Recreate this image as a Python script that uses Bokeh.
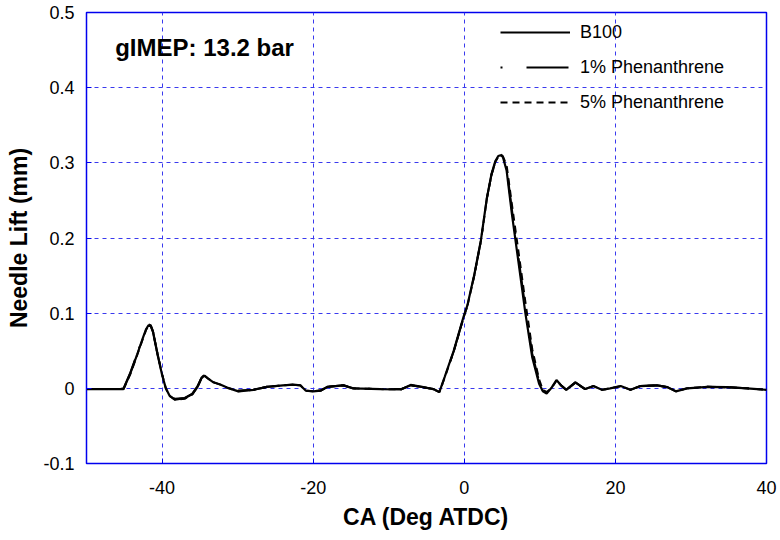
from bokeh.plotting import figure
from bokeh.models import Legend, LegendItem, Label, FixedTicker, Range1d
from bokeh.embed import file_html
from bokeh.resources import INLINE

# Crank angle (deg ATDC)
ca = [-50, -47, -45.5, -45.1, -44.2, -43.3, -42.5, -42.1, -41.8, -41.5, -41.2, -40.6, -40.0,
      -39.5, -39.0, -38.3, -37.0, -36.0, -35.3, -34.8, -34.4, -33.9, -33.2, -32.3, -31.4,
      -29.9, -27.9, -26.1, -24.0, -22.6, -21.7, -21.0, -20.0, -19.0, -18.1, -16.0, -14.7,
      -11.1, -8.4, -7.1, -5.4, -4.1, -3.3, -2.6, -1.4, -0.1, 0.4, 1.3, 2.2, 3.0, 3.6, 4.1,
      4.5, 4.8, 5.1, 5.6, 6.3, 7.2, 8.1, 9.0, 9.9, 10.4, 10.9, 11.6, 12.2, 12.8, 13.5, 14.7, 16.0, 17.1,
      18.2, 19.3, 20.7, 22.0, 23.3, 25.5, 26.9, 28.0, 29.5, 32.2, 34.8, 37.4, 40.0]

# Needle lift (mm)
b100 = [-0.001, -0.001, -0.001, -0.001, 0.020, 0.045, 0.068, 0.079, 0.084, 0.083, 0.075, 0.045, 0.018,
        0.000, -0.010, -0.015, -0.013, -0.008, 0.002, 0.013, 0.017, 0.013, 0.008, 0.005, 0.001,
        -0.004, -0.002, 0.002, 0.004, 0.005, 0.004, -0.003, -0.004, -0.003, 0.002, 0.004, 0.000,
        -0.001, -0.0015, 0.0045, 0.0015, -0.001, -0.005, 0.015, 0.050, 0.095, 0.110, 0.150, 0.197, 0.254, 0.285, 0.302,
        0.309, 0.310, 0.308, 0.290, 0.232, 0.166, 0.099, 0.041, 0.006, -0.004, -0.007, 0.0015, 0.011, 0.004, -0.002, 0.008, -0.001, 0.003,
        -0.002, 0.000, 0.003, -0.002, 0.003, 0.004, 0.0015, -0.004, 0.000, 0.002, 0.0015, 0.000, -0.002]

phen1 = [-0.001, -0.001, -0.001, 0.000, 0.021, 0.046, 0.069, 0.080, 0.085, 0.084, 0.076, 0.046, 0.019,
         0.001, -0.009, -0.014, -0.013, -0.007, 0.003, 0.014, 0.018, 0.014, 0.008, 0.005, 0.001,
         -0.003, -0.002, 0.002, 0.004, 0.005, 0.004, -0.002, -0.004, -0.003, 0.002, 0.004, 0.000,
         -0.001, -0.001, 0.004, 0.0015, -0.001, -0.005, 0.014, 0.049, 0.094, 0.109, 0.149, 0.196, 0.253, 0.284, 0.301,
         0.309, 0.311, 0.309, 0.294, 0.238, 0.172, 0.106, 0.046, 0.009, -0.003, -0.006, 0.001, 0.011, 0.004, -0.002, 0.008, -0.001, 0.003,
         -0.002, 0.000, 0.003, -0.002, 0.003, 0.004, 0.0015, -0.004, 0.000, 0.002, 0.0015, 0.000, -0.002]

phen5 = [-0.001, -0.001, -0.001, -0.001, 0.019, 0.044, 0.067, 0.078, 0.083, 0.083, 0.075, 0.046, 0.019,
         0.000, -0.010, -0.015, -0.014, -0.008, 0.002, 0.013, 0.017, 0.013, 0.008, 0.005, 0.001,
         -0.004, -0.002, 0.002, 0.004, 0.005, 0.004, -0.003, -0.004, -0.003, 0.002, 0.004, 0.000,
         -0.001, -0.0015, 0.004, 0.0015, -0.001, -0.005, 0.014, 0.049, 0.094, 0.109, 0.149, 0.196, 0.253, 0.284, 0.301,
         0.308, 0.310, 0.309, 0.297, 0.245, 0.180, 0.114, 0.052, 0.012, -0.002, -0.005, 0.001, 0.010, 0.004, -0.002, 0.007, -0.001, 0.003,
         -0.002, 0.000, 0.003, -0.002, 0.003, 0.004, 0.0015, -0.004, 0.000, 0.002, 0.0015, 0.000, -0.002]

series_names = ["B100", "1% Phenanthrene", "5% Phenanthrene"]
x_ticks = [-40, -20, 0, 20, 40]
x_tick_labels = ["-40", "-20", "0", "20", "40"]
y_ticks = [-0.1, 0, 0.1, 0.2, 0.3, 0.4, 0.5]
y_tick_labels = ["-0.1", "0", "0.1", "0.2", "0.3", "0.4", "0.5"]

FONT = "Liberation Sans"
BLUE = "#0000ee"

p = figure(width=780, height=540, output_backend="svg", toolbar_location=None,
           x_range=Range1d(-50, 40), y_range=Range1d(-0.1, 0.5),
           min_border_left=86, min_border_right=14, min_border_top=12, min_border_bottom=77)
p.background_fill_color = "white"
p.border_fill_color = "white"
p.outline_line_color = BLUE
p.outline_line_width = 1.5

r1 = p.line(ca, b100, line_color="black", line_width=2.2)
r2 = p.line(ca, phen1, line_color="black", line_width=2.0, line_dash="2 24 42 12")
r3 = p.line(ca, phen5, line_color="black", line_width=2.0, line_dash="7 5")

for ax in (p.xaxis, p.yaxis):
    ax.axis_line_color = BLUE
    ax.major_tick_line_color = BLUE
    ax.major_tick_in = 5
    ax.major_tick_out = 0
    ax.minor_tick_line_color = None
    ax.major_label_text_font = FONT
    ax.major_label_text_font_size = "18px"
    ax.major_label_text_color = "black"
    ax.axis_label_text_font = FONT
    ax.axis_label_text_font_size = "23px"
    ax.axis_label_text_font_style = "bold"
    ax.axis_label_text_color = "black"

p.xaxis.ticker = FixedTicker(ticks=x_ticks)
p.yaxis.ticker = FixedTicker(ticks=y_ticks)
p.xaxis.major_label_overrides = dict(zip(x_ticks, x_tick_labels))
p.yaxis.major_label_overrides = dict(zip(y_ticks, y_tick_labels))
p.xaxis.axis_label = "CA (Deg ATDC)"
p.yaxis.axis_label = "Needle Lift (mm)"
p.xaxis.major_label_standoff = 17
p.yaxis.major_label_standoff = 12
p.xaxis.axis_label_standoff = 7
p.yaxis.axis_label_standoff = 8

for g in (p.xgrid, p.ygrid):
    g.grid_line_color = "#3a3aee"
    g.grid_line_alpha = 1.0
    g.grid_line_dash = "4 4"
    g.grid_line_width = 1

legend = Legend(items=[LegendItem(label=n, renderers=[r]) for n, r in zip(series_names, [r1, r2, r3])],
                location=(414, 345), orientation="vertical",
                glyph_width=70, glyph_height=32, label_height=32, spacing=3,
                label_standoff=10, padding=0, margin=0,
                label_text_font=FONT, label_text_font_size="18px", label_text_color="black",
                border_line_alpha=0, background_fill_alpha=0)
p.add_layout(legend)

p.add_layout(Label(x=-46.2, y=0.453, text="gIMEP: 13.2 bar", text_font=FONT,
                   text_font_size="24px", text_font_style="bold", text_baseline="middle",
                   text_color="black"))

open("out.html", "w").write(file_html(p, INLINE))
